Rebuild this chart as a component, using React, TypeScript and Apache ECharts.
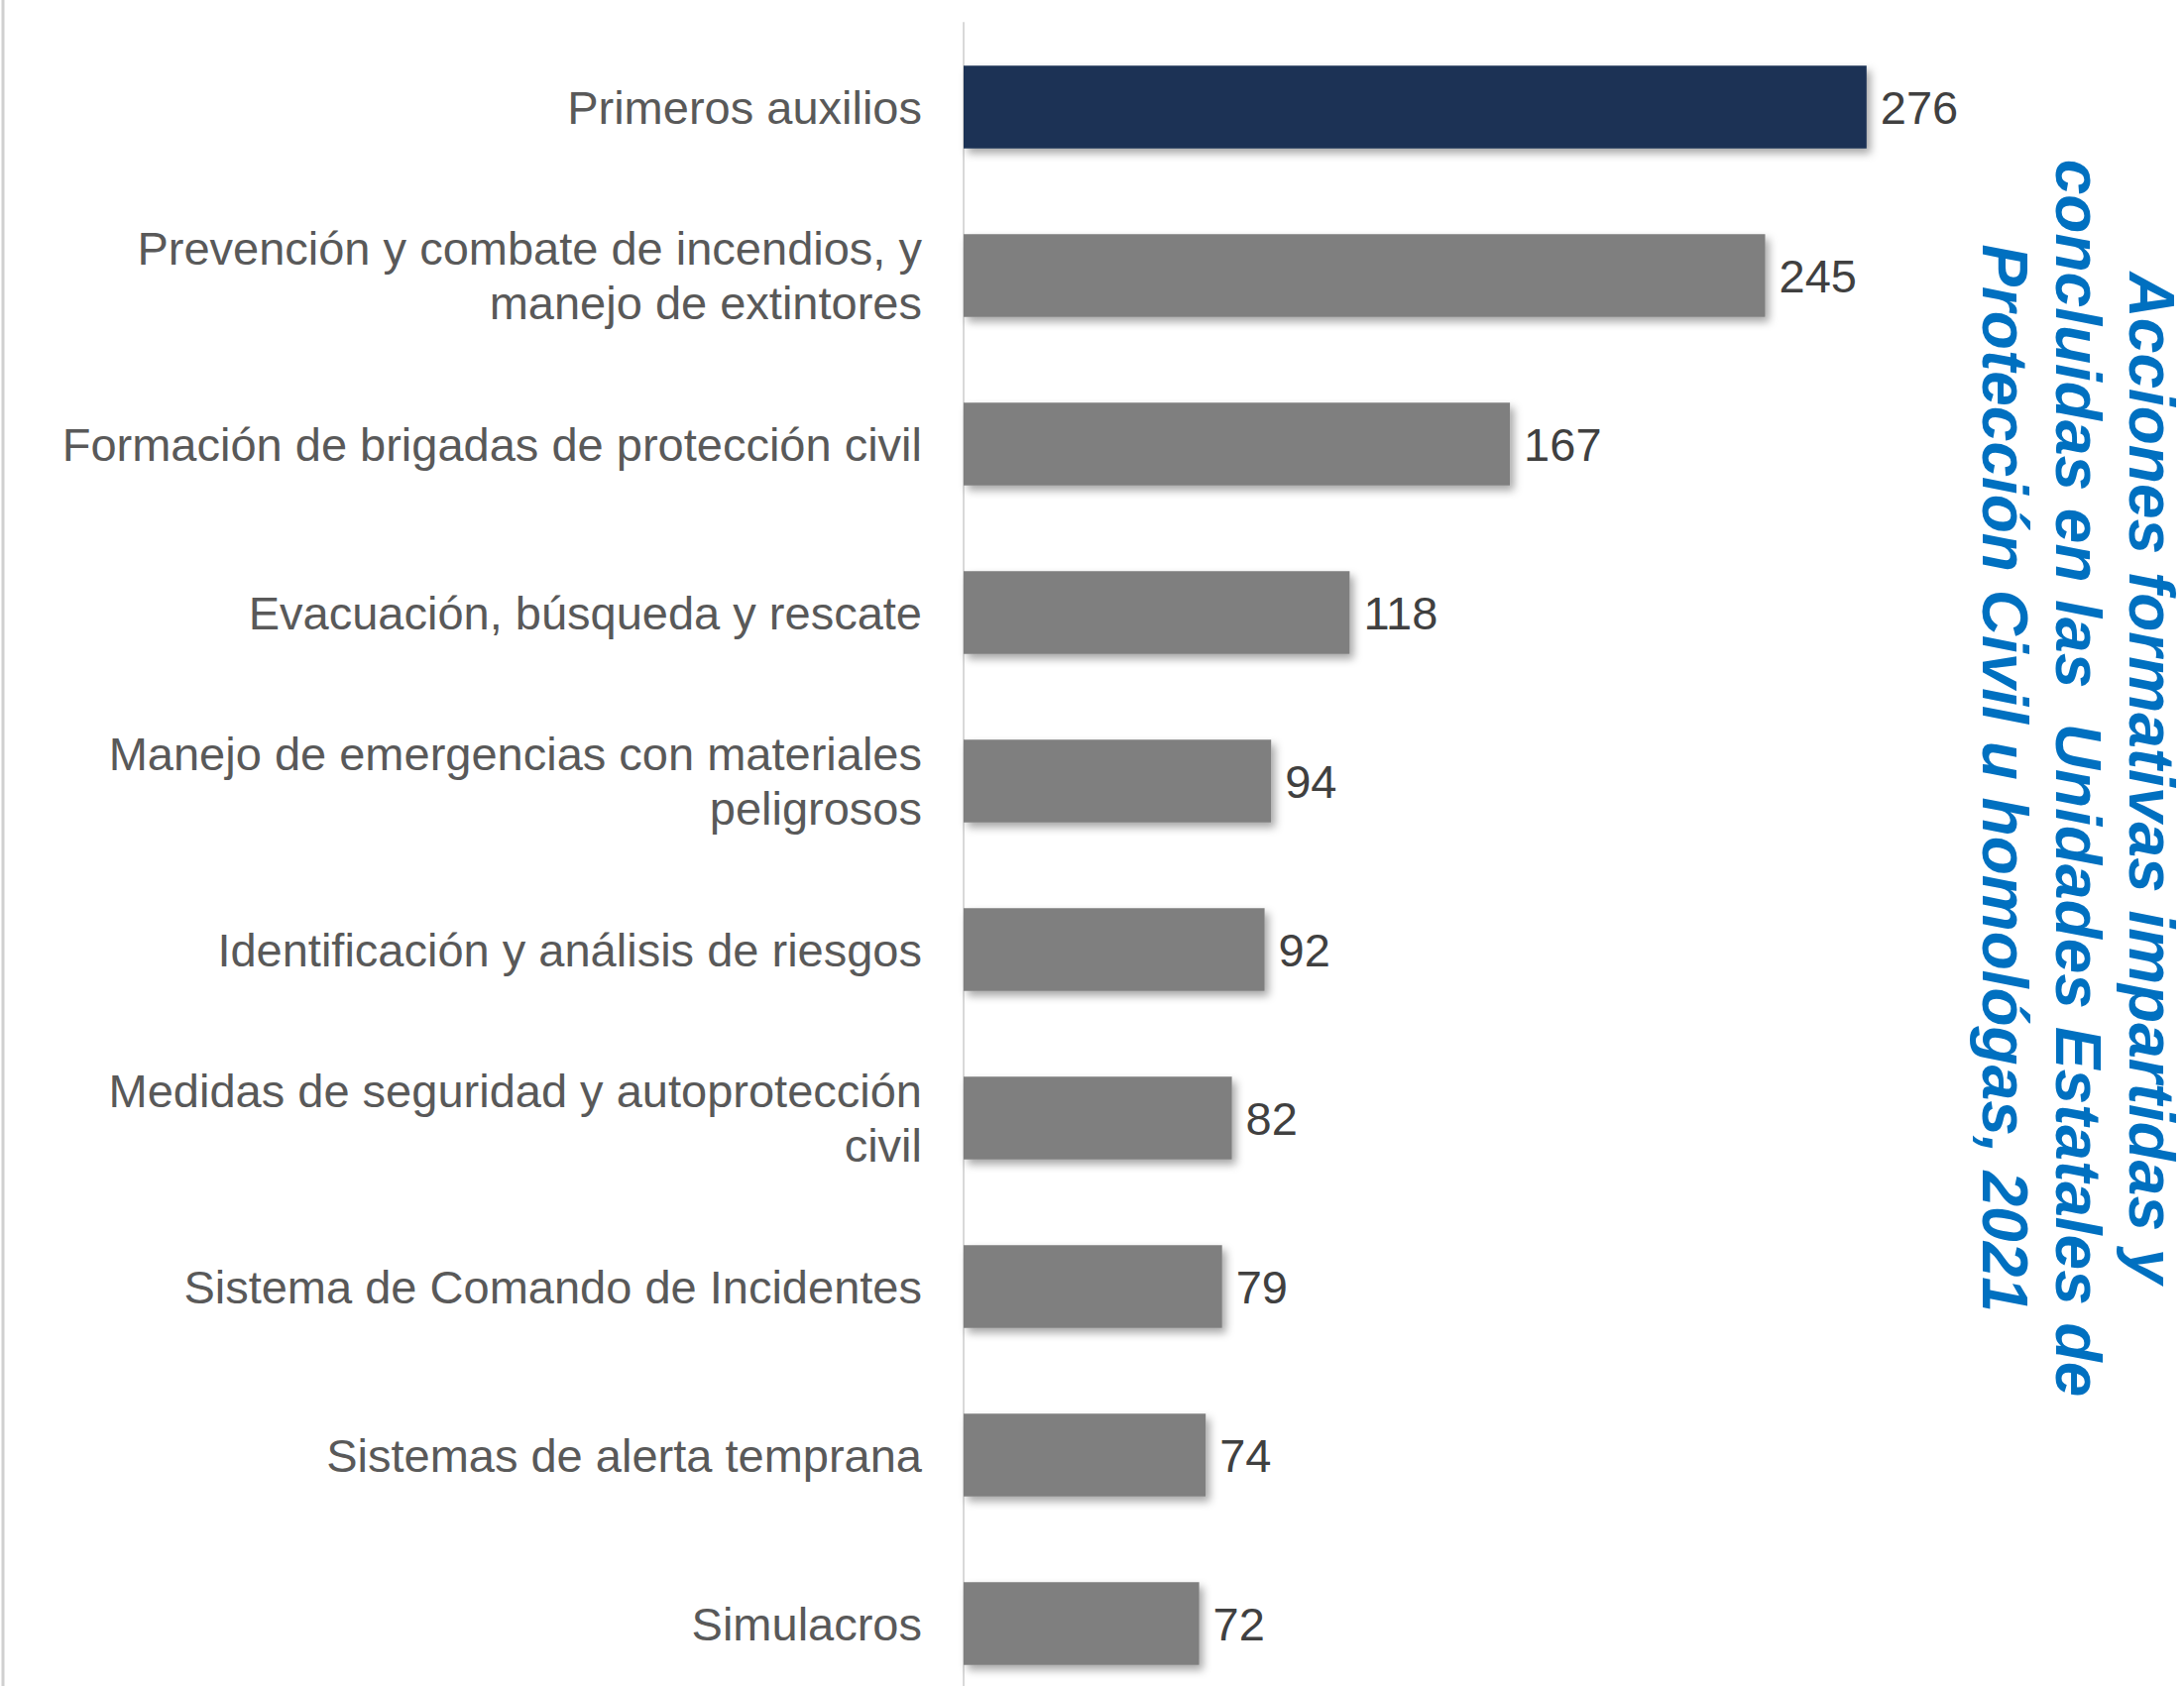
import React, { useEffect, useRef } from "react";
import * as echarts from "echarts";

const categories = [
  "Primeros auxilios",
  "Prevención y combate de incendios, y\nmanejo de extintores",
  "Formación de brigadas de protección civil",
  "Evacuación, búsqueda y rescate",
  "Manejo de emergencias con materiales\npeligrosos",
  "Identificación y análisis de riesgos",
  "Medidas de seguridad y autoprotección\ncivil",
  "Sistema de Comando de Incidentes",
  "Sistemas de alerta temprana",
  "Simulacros",
];
const values = [276, 245, 167, 118, 94, 92, 82, 79, 74, 72];
const titleLines = [
  "Acciones formativas impartidas y",
  "concluidas en las  Unidades Estatales de",
  "Protección Civil u homológas, 2021",
];

export default function App() {
  const ref = useRef<HTMLDivElement>(null);
  useEffect(() => {
    if (!ref.current) return;
    const chart = echarts.init(ref.current, null, { renderer: "svg" });
    const titleX = [2170, 2096, 2022];
    chart.setOption({
      animation: false,
      backgroundColor: "#ffffff",
      grid: { left: 972, top: 23, width: 990, height: 1700, containLabel: false },
      xAxis: {
        type: "value",
        min: 0,
        max: 300,
        show: false,
      },
      yAxis: {
        type: "category",
        data: categories,
        inverse: true,
        axisLine: { show: true, lineStyle: { color: "#D9D9D9", width: 2 } },
        axisTick: { show: false },
        axisLabel: {
          fontFamily: "Liberation Sans, Arial, sans-serif",
          fontSize: 47,
          lineHeight: 55,
          color: "#595959",
          margin: 42,
          align: "right",
        },
      },
      series: [
        {
          type: "bar",
          data: values.map((v, i) => ({
            value: v,
            itemStyle: { color: i === 0 ? "#1A3255" : "#7F7F7F" },
          })),
          barWidth: "49%",
          itemStyle: {
            shadowBlur: 8,
            shadowOffsetX: 4,
            shadowOffsetY: 5,
            shadowColor: "rgba(0,0,0,0.35)",
          },
          label: {
            show: true,
            position: "right",
            distance: 14,
            fontFamily: "Liberation Sans, Arial, sans-serif",
            fontSize: 47,
            color: "#404040",
          },
        },
      ],
      graphic: [
        {
          type: "line",
          shape: { x1: 3, y1: 0, x2: 3, y2: 1760 },
          style: { stroke: "#D0D0D0", lineWidth: 3 },
        },
        ...titleLines.map((t, i) => ({
          type: "text",
          x: titleX[i],
          y: 785,
          rotation: -Math.PI / 2,
          style: {
            text: t,
            fontFamily: "Liberation Sans, Arial, sans-serif",
            fontSize: 64,
            fontWeight: "bold",
            fontStyle: "italic",
            lineHeight: 52,
            fill: "#0070C0",
            align: "center",
            verticalAlign: "middle",
          },
        })),
      ],
    });
    return () => chart.dispose();
  }, []);
  return (
    <div
      style={{
        position: "absolute",
        left: 0,
        top: 0,
        width: 2203,
        height: 1701,
        overflow: "hidden",
        background: "#ffffff",
      }}
    >
      <div ref={ref} style={{ width: 2203, height: 1760 }} />
    </div>
  );
}
